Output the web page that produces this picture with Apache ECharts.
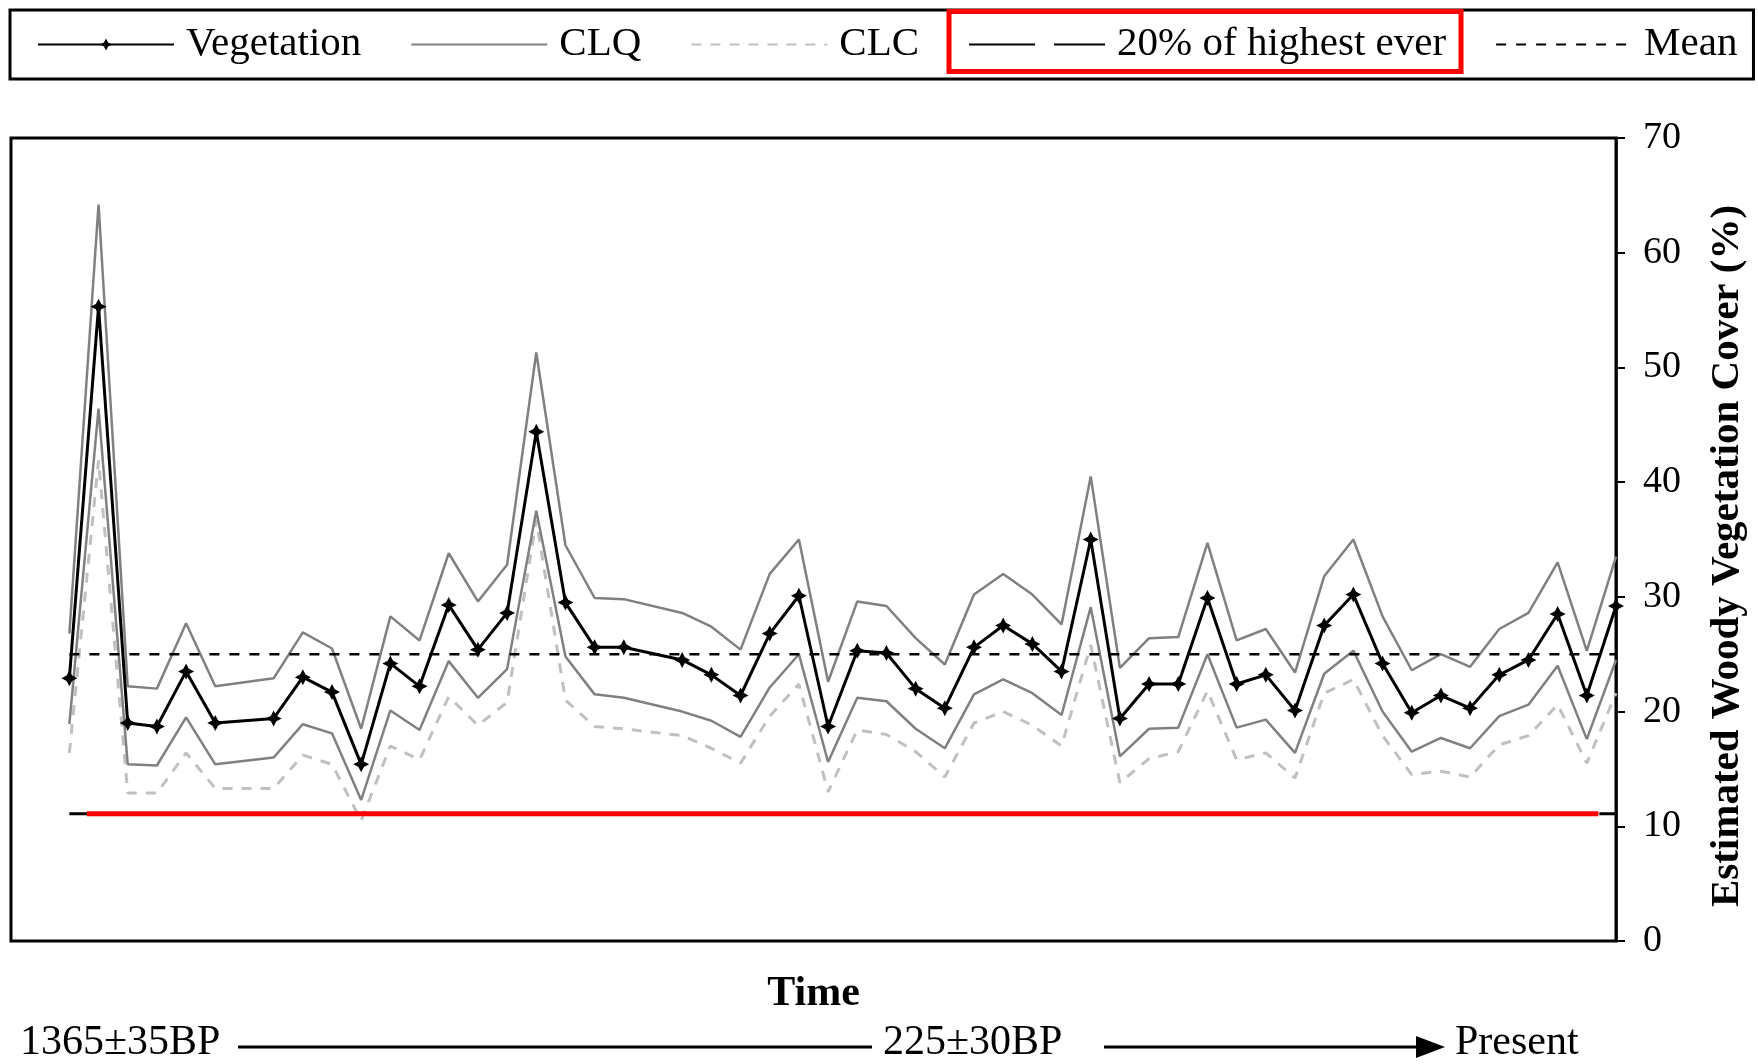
<!DOCTYPE html>
<html>
<head>
<meta charset="utf-8">
<title>Estimated Woody Vegetation Cover</title>
<script src="https://cdn.jsdelivr.net/npm/echarts@6/dist/echarts.min.js"></script>
<style>
    html, body { margin: 0; padding: 0; background: #fff; }
    #chart { width: 1758px; height: 1064px; }
</style>
</head>
<body>
<div id="chart"></div>
<script>
// samples along the time axis, oldest first (null = no sample in that slot)
var vegetation = [22.9, 55.3, 19.0, 18.7, 23.5, 19.0, null, 19.4, 23.0, 21.7,
    15.4, 24.2, 22.2, 29.3, 25.4, 28.6, 44.4, 29.5, 25.6, 25.6,
    null, 24.5, 23.2, 21.4, 26.8, 30.1, 18.7, 25.3, 25.1, 22.0,
    20.3, 25.6, 27.5, 25.9, 23.5, 35.0, 19.4, 22.4, 22.4, 29.9,
    22.4, 23.2, 20.1, 27.5, 30.2, 24.2, 19.9, 21.4, 20.3, 23.2,
    24.5, 28.5, 21.4, 29.2];
var clqUpper = [26.8, 64.2, 22.2, 22.0, 27.7, 22.2, null, 22.9, 26.9, 25.5,
    18.5, 28.3, 26.2, 33.8, 29.6, 32.8, 51.3, 34.5, 29.9, 29.8,
    null, 28.6, 27.4, 25.4, 32.0, 35.0, 22.6, 29.6, 29.2, 26.4,
    24.1, 30.2, 32.0, 30.2, 27.6, 40.5, 23.8, 26.4, 26.5, 34.7,
    26.2, 27.2, 23.4, 31.8, 35.0, 28.3, 23.6, 25.0, 23.9, 27.2,
    28.6, 33.0, 25.3, 33.5];
var clqLower = [18.9, 46.4, 15.4, 15.3, 19.5, 15.4, null, 16.0, 18.9, 18.1,
    12.3, 20.1, 18.4, 24.4, 21.2, 23.7, 37.5, 24.8, 21.5, 21.2,
    null, 20.0, 19.2, 17.8, 22.1, 25.0, 15.6, 21.2, 20.9, 18.5,
    16.8, 21.5, 22.8, 21.6, 19.7, 29.1, 16.1, 18.5, 18.6, 25.0,
    18.6, 19.3, 16.4, 23.3, 25.3, 20.0, 16.5, 17.7, 16.8, 19.6,
    20.6, 24.0, 17.6, 24.5];
var clc = [16.4, 41.9, 12.9, 12.9, 16.4, 13.3, null, 13.3, 16.2, 15.4,
    10.5, 17.0, 15.8, 21.3, 18.8, 20.8, 36.7, 21.0, 18.7, 18.5,
    null, 17.9, 16.8, 15.5, 19.6, 22.4, 13.0, 18.4, 18.0, 16.5,
    14.3, 19.0, 20.0, 18.8, 17.0, 25.8, 13.8, 15.9, 16.5, 21.8,
    15.8, 16.4, 14.2, 21.6, 22.8, 17.9, 14.5, 14.8, 14.3, 17.1,
    17.9, 20.6, 15.5, 21.6];
var meanLevel = 25.0;
var highestLevel = 11.1;            // 20% of highest ever
var highlightSpan = [0.6, 52.4];    // part of that line marked in red
var yTicks = [0, 70, 10];           // min, max, step
var timeLabels = ['1365±35BP', '225±30BP', 'Present'];
var yTitle = 'Estimated Woody Vegetation Cover (%)';

var serif = '"Times New Roman", "Liberation Serif", serif';
var lastSlot = vegetation.length - 1;

// [slot, value] pairs, gaps skipped so the line joins across them
function pairs(arr) {
    var out = [];
    for (var i = 0; i < arr.length; i++) {
        if (arr[i] !== null) out.push([i, arr[i]]);
    }
    return out;
}

// legend entry with no marker, only the line
function plainEntry(name) {
    return { name: name, itemStyle: { opacity: 0 } };
}

var myChart = echarts.init(document.getElementById('chart'));
var option = {
    animation: false,
    backgroundColor: '#fff',
    legend: {
        data: ['Vegetation', plainEntry('CLQ'), plainEntry('CLC'),
            plainEntry('20% of highest ever'), plainEntry('Mean')],
        left: 10,
        top: 10,
        padding: [12, 16, 12, 27],
        itemGap: 49,
        itemWidth: 136,
        itemHeight: 15,
        borderColor: '#000',
        borderWidth: 3,
        textStyle: {
            color: '#000',
            fontFamily: serif,
            fontSize: 41,
            lineHeight: 45,
            padding: [0, 0, 0, 7]
        }
    },
    grid: {
        left: 11,
        right: 142,
        top: 138,
        bottom: 123,
        show: true,
        borderColor: '#000',
        borderWidth: 3
    },
    xAxis: {
        type: 'value',
        min: -2,
        max: lastSlot,
        name: 'Time',
        nameLocation: 'middle',
        nameGap: 32,
        nameTextStyle: { color: '#000', fontFamily: serif, fontSize: 42, fontWeight: 'bold' },
        axisLine: { show: false },
        axisTick: { show: false },
        axisLabel: { show: false },
        splitLine: { show: false }
    },
    yAxis: {
        type: 'value',
        position: 'right',
        min: yTicks[0],
        max: yTicks[1],
        interval: yTicks[2],
        axisLine: { show: true, onZero: false, lineStyle: { color: '#000', width: 2.5 } },
        axisTick: { show: true, length: 9, lineStyle: { color: '#000', width: 2 } },
        axisLabel: { margin: 27, color: '#000', fontFamily: serif, fontSize: 38 },
        splitLine: { show: false }
    },
    series: [
        {
            name: 'CLC',
            type: 'line',
            data: pairs(clc),
            symbol: 'none',
            color: '#c0c0c0',
            lineStyle: { color: '#c0c0c0', width: 3, type: [10, 9] },
            z: 2
        },
        {
            name: 'CLQ',
            type: 'line',
            data: pairs(clqUpper),
            symbol: 'none',
            color: '#808080',
            lineStyle: { color: '#808080', width: 2.5 },
            z: 3
        },
        {
            name: 'CLQ',
            type: 'line',
            data: pairs(clqLower),
            symbol: 'none',
            color: '#808080',
            lineStyle: { color: '#808080', width: 2.5 },
            z: 3
        },
        {
            name: 'Mean',
            type: 'line',
            data: [[0, meanLevel], [lastSlot, meanLevel]],
            symbol: 'none',
            color: '#000',
            lineStyle: { color: '#000', width: 2.5, type: [10, 10] },
            z: 4
        },
        {
            name: '20% of highest ever',
            type: 'line',
            data: [[0, highestLevel], [lastSlot, highestLevel]],
            symbol: 'none',
            color: '#000',
            lineStyle: { color: '#000', width: 3, type: [66, 19] },
            z: 4
        },
        {
            // red highlight drawn over the 20% line
            name: 'highlight',
            type: 'line',
            data: [[highlightSpan[0], highestLevel], [highlightSpan[1], highestLevel]],
            symbol: 'none',
            color: '#ff0000',
            lineStyle: { color: '#ff0000', width: 5 },
            z: 5
        },
        {
            name: 'Vegetation',
            type: 'line',
            data: pairs(vegetation),
            symbol: 'path://M0,-7 L2.4,-2.4 L7,0 L2.4,2.4 L0,7 L-2.4,2.4 L-7,0 L-2.4,-2.4 Z',
            symbolSize: 16,
            color: '#000',
            itemStyle: { color: '#000' },
            lineStyle: { color: '#000', width: 3 },
            z: 6
        }
    ],
    graphic: [
        // red box round the legend entry
        {
            type: 'rect',
            z: 100,
            shape: { x: 949, y: 11.5, width: 512, height: 60 },
            style: { fill: 'none', stroke: '#ff0000', lineWidth: 5 }
        },
        // y axis title, reading upwards
        {
            type: 'text',
            x: 1727,
            y: 556,
            rotation: Math.PI / 2,
            style: {
                text: yTitle, fontFamily: serif, fontSize: 41, fontWeight: 'bold',
                fill: '#000', align: 'center', verticalAlign: 'middle'
            }
        },
        // time line under the chart
        {
            type: 'text', left: 20, top: 1022,
            style: { text: timeLabels[0], fontFamily: serif, fontSize: 42, fill: '#000' }
        },
        {
            type: 'line',
            shape: { x1: 238, y1: 1047, x2: 872, y2: 1047 },
            style: { stroke: '#000', lineWidth: 3 }
        },
        {
            type: 'text', left: 883, top: 1022,
            style: { text: timeLabels[1], fontFamily: serif, fontSize: 42, fill: '#000' }
        },
        {
            type: 'line',
            shape: { x1: 1104, y1: 1047, x2: 1420, y2: 1047 },
            style: { stroke: '#000', lineWidth: 3 }
        },
        {
            type: 'polygon',
            shape: { points: [[1416, 1036], [1445, 1047], [1416, 1058]] },
            style: { fill: '#000' }
        },
        {
            type: 'text', left: 1455, top: 1022,
            style: { text: timeLabels[2], fontFamily: serif, fontSize: 42, fill: '#000' }
        }
    ]
};
myChart.setOption(option);
</script>
</body>
</html>
